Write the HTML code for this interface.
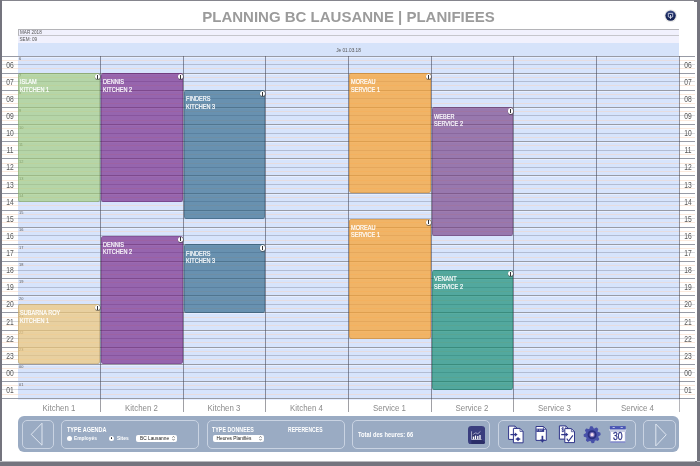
<!DOCTYPE html>
<html><head><meta charset="utf-8"><title>Planning BC Lausanne</title>
<style>
html,body{margin:0;padding:0;}
body{width:700px;height:466px;overflow:hidden;background:#fff;position:relative;font-family:"Liberation Sans",sans-serif;}
.a{position:absolute;}
.frame{position:absolute;background:#74747e;}
.title{position:absolute;left:0;width:697px;top:8px;text-align:center;font-weight:bold;font-size:15px;line-height:18px;color:#9b9b9b;white-space:nowrap;}
.hl{position:absolute;left:2px;width:693px;height:1px;}
.blk{position:absolute;border-radius:3px;box-sizing:border-box;}
.blk .t{position:absolute;left:2.3px;top:5.2px;color:#fff;font-size:7px;line-height:7.5px;white-space:nowrap;transform:scaleX(.795);transform-origin:0 0;-webkit-text-stroke:.2px #fff;}
.blk .i{position:absolute;right:0px;top:0.9px;width:5.3px;height:5.3px;border-radius:50%;background:#fff;box-shadow:.3px .4px 0 .5px rgba(60,60,60,.6);}
.blk .i:after{content:"";position:absolute;left:2.1px;top:.8px;width:1.1px;height:3.8px;background:#333;}
.hr{position:absolute;font-size:8.6px;line-height:9px;color:#585858;width:14px;text-align:center;transform:scaleX(.78);}
.sm{position:absolute;font-size:3.900px;line-height:4px;color:#5a5a5a;left:19px;}
.cl{position:absolute;font-size:8.4px;line-height:10px;color:#8a8a8a;text-align:center;top:403px;transform:scaleX(.94);}
.tb{position:absolute;left:18px;top:416px;width:661px;height:36px;background:#9aabc3;border-radius:6px;}
.pn{position:absolute;top:4px;height:29px;box-sizing:border-box;border:1px solid #c9d3e2;border-radius:5px;}
.lb{position:absolute;color:#fff;font-size:6.4px;line-height:8px;font-weight:bold;white-space:nowrap;transform-origin:0 0;}
.sl{position:absolute;height:7px;background:#fff;border-radius:2px;font-size:4.8px;line-height:7px;color:#222;white-space:nowrap;box-sizing:border-box;padding-left:4px;}
</style></head><body>
<div id="root" style="position:absolute;left:0;top:0;width:700px;height:466px;overflow:hidden;will-change:transform;">

<div class="frame" style="left:0;top:0;width:700px;height:1px;background:#85858d"></div>
<div class="frame" style="left:0;top:0;width:2px;height:466px;"></div>
<div class="frame" style="left:697px;top:0;width:3px;height:466px;"></div>
<div class="frame" style="left:694px;top:0;width:3px;height:2px;"></div>
<div class="frame" style="left:0;top:462px;width:700px;height:4px;"></div>
<div class="frame" style="left:0;top:461px;width:700px;height:1px;background:#b9b9be"></div>
<div class="frame" style="left:695px;top:461px;width:2px;height:1px;"></div>
<div class="title">PLANNING BC LAUSANNE | PLANIFIEES</div>
<svg class="a" style="left:663px;top:8px" width="16" height="16" viewBox="0 0 16 16"><defs><linearGradient id="g1" x1="0" y1="0" x2="0" y2="1"><stop offset="0" stop-color="#3a4b86"/><stop offset=".45" stop-color="#1a2a60"/><stop offset="1" stop-color="#142050"/></linearGradient></defs><circle cx="7.7" cy="7.8" r="6.3" fill="#dcdcd8" opacity=".7"/><circle cx="7.6" cy="7.6" r="5.2" fill="url(#g1)"/><path d="M5.300 5.400h4.400v3.400h-1.300M5.300 5.400v3.400h1.100" stroke="#dfe3f2" stroke-width=".8" fill="none"/><path d="M7.500 7v3.200M6.400 9.300l1.100 1.200 1.100-1.200" stroke="#fff" stroke-width=".8" fill="none"/></svg>
<div class="a" style="left:18px;top:29px;width:661px;height:7px;background:#f1f1fd;box-sizing:border-box;border-top:1px solid #b4b4b8;border-bottom:1px solid #c6c6cc;border-left:1px solid #b4b4b8"></div>
<div class="a" style="left:18px;top:36px;width:661px;height:7px;background:#f1f1fd"></div>
<div class="a" style="left:18px;top:43px;width:661px;height:13px;background:#d6e3fa"></div>
<div class="a" style="left:20px;top:29.8px;font-size:4.6px;line-height:5px;color:#555;white-space:nowrap">MAR 2018</div>
<div class="a" style="left:19.5px;top:36.6px;font-size:4.6px;line-height:5px;color:#555;white-space:nowrap">SEM: 09</div>
<div class="a" style="left:18px;width:661px;text-align:center;top:47.7px;font-size:4.7px;line-height:5px;color:#555;white-space:nowrap">Je 01.03.18</div>
<div class="a" style="left:18px;top:56.0px;width:661px;height:342.5px;background:#d7e4fc"></div>
<div class="hl" style="top:55.50px;background:#989ba5"></div>
<div class="a" style="left:18px;width:661px;height:1px;top:56.60px;background:#e6eeff"></div>
<div class="hl" style="top:59.78px;background:#fbe9dc"></div>
<div class="a" style="left:18px;width:661px;height:1px;top:59.78px;background:#e6dcdf"></div>
<div class="hl" style="top:64.06px;background:#d9d9dc"></div>
<div class="a" style="left:18px;width:661px;height:1px;top:64.06px;background:#b2bcd3"></div>
<div class="hl" style="top:68.34px;background:#fbe9dc"></div>
<div class="a" style="left:18px;width:661px;height:1px;top:68.34px;background:#e6dcdf"></div>
<div class="hl" style="top:72.62px;background:#989ba5"></div>
<div class="a" style="left:18px;width:661px;height:1px;top:73.72px;background:#e6eeff"></div>
<div class="hl" style="top:76.91px;background:#fbe9dc"></div>
<div class="a" style="left:18px;width:661px;height:1px;top:76.91px;background:#e6dcdf"></div>
<div class="hl" style="top:81.19px;background:#d9d9dc"></div>
<div class="a" style="left:18px;width:661px;height:1px;top:81.19px;background:#b2bcd3"></div>
<div class="hl" style="top:85.47px;background:#fbe9dc"></div>
<div class="a" style="left:18px;width:661px;height:1px;top:85.47px;background:#e6dcdf"></div>
<div class="hl" style="top:89.75px;background:#989ba5"></div>
<div class="a" style="left:18px;width:661px;height:1px;top:90.85px;background:#e6eeff"></div>
<div class="hl" style="top:94.03px;background:#fbe9dc"></div>
<div class="a" style="left:18px;width:661px;height:1px;top:94.03px;background:#e6dcdf"></div>
<div class="hl" style="top:98.31px;background:#d9d9dc"></div>
<div class="a" style="left:18px;width:661px;height:1px;top:98.31px;background:#b2bcd3"></div>
<div class="hl" style="top:102.59px;background:#fbe9dc"></div>
<div class="a" style="left:18px;width:661px;height:1px;top:102.59px;background:#e6dcdf"></div>
<div class="hl" style="top:106.88px;background:#989ba5"></div>
<div class="a" style="left:18px;width:661px;height:1px;top:107.97px;background:#e6eeff"></div>
<div class="hl" style="top:111.16px;background:#fbe9dc"></div>
<div class="a" style="left:18px;width:661px;height:1px;top:111.16px;background:#e6dcdf"></div>
<div class="hl" style="top:115.44px;background:#d9d9dc"></div>
<div class="a" style="left:18px;width:661px;height:1px;top:115.44px;background:#b2bcd3"></div>
<div class="hl" style="top:119.72px;background:#fbe9dc"></div>
<div class="a" style="left:18px;width:661px;height:1px;top:119.72px;background:#e6dcdf"></div>
<div class="hl" style="top:124.00px;background:#989ba5"></div>
<div class="a" style="left:18px;width:661px;height:1px;top:125.10px;background:#e6eeff"></div>
<div class="hl" style="top:128.28px;background:#fbe9dc"></div>
<div class="a" style="left:18px;width:661px;height:1px;top:128.28px;background:#e6dcdf"></div>
<div class="hl" style="top:132.56px;background:#d9d9dc"></div>
<div class="a" style="left:18px;width:661px;height:1px;top:132.56px;background:#b2bcd3"></div>
<div class="hl" style="top:136.84px;background:#fbe9dc"></div>
<div class="a" style="left:18px;width:661px;height:1px;top:136.84px;background:#e6dcdf"></div>
<div class="hl" style="top:141.12px;background:#989ba5"></div>
<div class="a" style="left:18px;width:661px;height:1px;top:142.22px;background:#e6eeff"></div>
<div class="hl" style="top:145.41px;background:#fbe9dc"></div>
<div class="a" style="left:18px;width:661px;height:1px;top:145.41px;background:#e6dcdf"></div>
<div class="hl" style="top:149.69px;background:#d9d9dc"></div>
<div class="a" style="left:18px;width:661px;height:1px;top:149.69px;background:#b2bcd3"></div>
<div class="hl" style="top:153.97px;background:#fbe9dc"></div>
<div class="a" style="left:18px;width:661px;height:1px;top:153.97px;background:#e6dcdf"></div>
<div class="hl" style="top:158.25px;background:#989ba5"></div>
<div class="a" style="left:18px;width:661px;height:1px;top:159.35px;background:#e6eeff"></div>
<div class="hl" style="top:162.53px;background:#fbe9dc"></div>
<div class="a" style="left:18px;width:661px;height:1px;top:162.53px;background:#e6dcdf"></div>
<div class="hl" style="top:166.81px;background:#d9d9dc"></div>
<div class="a" style="left:18px;width:661px;height:1px;top:166.81px;background:#b2bcd3"></div>
<div class="hl" style="top:171.09px;background:#fbe9dc"></div>
<div class="a" style="left:18px;width:661px;height:1px;top:171.09px;background:#e6dcdf"></div>
<div class="hl" style="top:175.38px;background:#989ba5"></div>
<div class="a" style="left:18px;width:661px;height:1px;top:176.47px;background:#e6eeff"></div>
<div class="hl" style="top:179.66px;background:#fbe9dc"></div>
<div class="a" style="left:18px;width:661px;height:1px;top:179.66px;background:#e6dcdf"></div>
<div class="hl" style="top:183.94px;background:#d9d9dc"></div>
<div class="a" style="left:18px;width:661px;height:1px;top:183.94px;background:#b2bcd3"></div>
<div class="hl" style="top:188.22px;background:#fbe9dc"></div>
<div class="a" style="left:18px;width:661px;height:1px;top:188.22px;background:#e6dcdf"></div>
<div class="hl" style="top:192.50px;background:#989ba5"></div>
<div class="a" style="left:18px;width:661px;height:1px;top:193.60px;background:#e6eeff"></div>
<div class="hl" style="top:196.78px;background:#fbe9dc"></div>
<div class="a" style="left:18px;width:661px;height:1px;top:196.78px;background:#e6dcdf"></div>
<div class="hl" style="top:201.06px;background:#d9d9dc"></div>
<div class="a" style="left:18px;width:661px;height:1px;top:201.06px;background:#b2bcd3"></div>
<div class="hl" style="top:205.34px;background:#fbe9dc"></div>
<div class="a" style="left:18px;width:661px;height:1px;top:205.34px;background:#e6dcdf"></div>
<div class="hl" style="top:209.62px;background:#989ba5"></div>
<div class="a" style="left:18px;width:661px;height:1px;top:210.72px;background:#e6eeff"></div>
<div class="hl" style="top:213.91px;background:#fbe9dc"></div>
<div class="a" style="left:18px;width:661px;height:1px;top:213.91px;background:#e6dcdf"></div>
<div class="hl" style="top:218.19px;background:#d9d9dc"></div>
<div class="a" style="left:18px;width:661px;height:1px;top:218.19px;background:#b2bcd3"></div>
<div class="hl" style="top:222.47px;background:#fbe9dc"></div>
<div class="a" style="left:18px;width:661px;height:1px;top:222.47px;background:#e6dcdf"></div>
<div class="hl" style="top:226.75px;background:#989ba5"></div>
<div class="a" style="left:18px;width:661px;height:1px;top:227.85px;background:#e6eeff"></div>
<div class="hl" style="top:231.03px;background:#fbe9dc"></div>
<div class="a" style="left:18px;width:661px;height:1px;top:231.03px;background:#e6dcdf"></div>
<div class="hl" style="top:235.31px;background:#d9d9dc"></div>
<div class="a" style="left:18px;width:661px;height:1px;top:235.31px;background:#b2bcd3"></div>
<div class="hl" style="top:239.59px;background:#fbe9dc"></div>
<div class="a" style="left:18px;width:661px;height:1px;top:239.59px;background:#e6dcdf"></div>
<div class="hl" style="top:243.88px;background:#989ba5"></div>
<div class="a" style="left:18px;width:661px;height:1px;top:244.97px;background:#e6eeff"></div>
<div class="hl" style="top:248.16px;background:#fbe9dc"></div>
<div class="a" style="left:18px;width:661px;height:1px;top:248.16px;background:#e6dcdf"></div>
<div class="hl" style="top:252.44px;background:#d9d9dc"></div>
<div class="a" style="left:18px;width:661px;height:1px;top:252.44px;background:#b2bcd3"></div>
<div class="hl" style="top:256.72px;background:#fbe9dc"></div>
<div class="a" style="left:18px;width:661px;height:1px;top:256.72px;background:#e6dcdf"></div>
<div class="hl" style="top:261.00px;background:#989ba5"></div>
<div class="a" style="left:18px;width:661px;height:1px;top:262.10px;background:#e6eeff"></div>
<div class="hl" style="top:265.28px;background:#fbe9dc"></div>
<div class="a" style="left:18px;width:661px;height:1px;top:265.28px;background:#e6dcdf"></div>
<div class="hl" style="top:269.56px;background:#d9d9dc"></div>
<div class="a" style="left:18px;width:661px;height:1px;top:269.56px;background:#b2bcd3"></div>
<div class="hl" style="top:273.84px;background:#fbe9dc"></div>
<div class="a" style="left:18px;width:661px;height:1px;top:273.84px;background:#e6dcdf"></div>
<div class="hl" style="top:278.12px;background:#989ba5"></div>
<div class="a" style="left:18px;width:661px;height:1px;top:279.23px;background:#e6eeff"></div>
<div class="hl" style="top:282.41px;background:#fbe9dc"></div>
<div class="a" style="left:18px;width:661px;height:1px;top:282.41px;background:#e6dcdf"></div>
<div class="hl" style="top:286.69px;background:#d9d9dc"></div>
<div class="a" style="left:18px;width:661px;height:1px;top:286.69px;background:#b2bcd3"></div>
<div class="hl" style="top:290.97px;background:#fbe9dc"></div>
<div class="a" style="left:18px;width:661px;height:1px;top:290.97px;background:#e6dcdf"></div>
<div class="hl" style="top:295.25px;background:#989ba5"></div>
<div class="a" style="left:18px;width:661px;height:1px;top:296.35px;background:#e6eeff"></div>
<div class="hl" style="top:299.53px;background:#fbe9dc"></div>
<div class="a" style="left:18px;width:661px;height:1px;top:299.53px;background:#e6dcdf"></div>
<div class="hl" style="top:303.81px;background:#d9d9dc"></div>
<div class="a" style="left:18px;width:661px;height:1px;top:303.81px;background:#b2bcd3"></div>
<div class="hl" style="top:308.09px;background:#fbe9dc"></div>
<div class="a" style="left:18px;width:661px;height:1px;top:308.09px;background:#e6dcdf"></div>
<div class="hl" style="top:312.38px;background:#989ba5"></div>
<div class="a" style="left:18px;width:661px;height:1px;top:313.48px;background:#e6eeff"></div>
<div class="hl" style="top:316.66px;background:#fbe9dc"></div>
<div class="a" style="left:18px;width:661px;height:1px;top:316.66px;background:#e6dcdf"></div>
<div class="hl" style="top:320.94px;background:#d9d9dc"></div>
<div class="a" style="left:18px;width:661px;height:1px;top:320.94px;background:#b2bcd3"></div>
<div class="hl" style="top:325.22px;background:#fbe9dc"></div>
<div class="a" style="left:18px;width:661px;height:1px;top:325.22px;background:#e6dcdf"></div>
<div class="hl" style="top:329.50px;background:#989ba5"></div>
<div class="a" style="left:18px;width:661px;height:1px;top:330.60px;background:#e6eeff"></div>
<div class="hl" style="top:333.78px;background:#fbe9dc"></div>
<div class="a" style="left:18px;width:661px;height:1px;top:333.78px;background:#e6dcdf"></div>
<div class="hl" style="top:338.06px;background:#d9d9dc"></div>
<div class="a" style="left:18px;width:661px;height:1px;top:338.06px;background:#b2bcd3"></div>
<div class="hl" style="top:342.34px;background:#fbe9dc"></div>
<div class="a" style="left:18px;width:661px;height:1px;top:342.34px;background:#e6dcdf"></div>
<div class="hl" style="top:346.62px;background:#989ba5"></div>
<div class="a" style="left:18px;width:661px;height:1px;top:347.73px;background:#e6eeff"></div>
<div class="hl" style="top:350.91px;background:#fbe9dc"></div>
<div class="a" style="left:18px;width:661px;height:1px;top:350.91px;background:#e6dcdf"></div>
<div class="hl" style="top:355.19px;background:#d9d9dc"></div>
<div class="a" style="left:18px;width:661px;height:1px;top:355.19px;background:#b2bcd3"></div>
<div class="hl" style="top:359.47px;background:#fbe9dc"></div>
<div class="a" style="left:18px;width:661px;height:1px;top:359.47px;background:#e6dcdf"></div>
<div class="hl" style="top:363.75px;background:#989ba5"></div>
<div class="a" style="left:18px;width:661px;height:1px;top:364.85px;background:#e6eeff"></div>
<div class="hl" style="top:368.03px;background:#fbe9dc"></div>
<div class="a" style="left:18px;width:661px;height:1px;top:368.03px;background:#e6dcdf"></div>
<div class="hl" style="top:372.31px;background:#d9d9dc"></div>
<div class="a" style="left:18px;width:661px;height:1px;top:372.31px;background:#b2bcd3"></div>
<div class="hl" style="top:376.59px;background:#fbe9dc"></div>
<div class="a" style="left:18px;width:661px;height:1px;top:376.59px;background:#e6dcdf"></div>
<div class="hl" style="top:380.88px;background:#989ba5"></div>
<div class="a" style="left:18px;width:661px;height:1px;top:381.98px;background:#e6eeff"></div>
<div class="hl" style="top:385.16px;background:#fbe9dc"></div>
<div class="a" style="left:18px;width:661px;height:1px;top:385.16px;background:#e6dcdf"></div>
<div class="hl" style="top:389.44px;background:#d9d9dc"></div>
<div class="a" style="left:18px;width:661px;height:1px;top:389.44px;background:#b2bcd3"></div>
<div class="hl" style="top:393.72px;background:#fbe9dc"></div>
<div class="a" style="left:18px;width:661px;height:1px;top:393.72px;background:#e6dcdf"></div>
<div class="hl" style="top:398.00px;background:#989ba5"></div>
<div class="a" style="left:18px;width:661px;height:1px;top:399.10px;background:#e6eeff"></div>
<div class="hr" style="left:3px;top:60.66px">06</div>
<div class="hr" style="left:680.5px;top:60.66px">06</div>
<div class="sm" style="top:57.20px">6</div>
<div class="hr" style="left:3px;top:77.79px">07</div>
<div class="hr" style="left:680.5px;top:77.79px">07</div>
<div class="sm" style="top:74.33px">7</div>
<div class="hr" style="left:3px;top:94.91px">08</div>
<div class="hr" style="left:680.5px;top:94.91px">08</div>
<div class="sm" style="top:91.45px">8</div>
<div class="hr" style="left:3px;top:112.04px">09</div>
<div class="hr" style="left:680.5px;top:112.04px">09</div>
<div class="sm" style="top:108.58px">9</div>
<div class="hr" style="left:3px;top:129.16px">10</div>
<div class="hr" style="left:680.5px;top:129.16px">10</div>
<div class="sm" style="top:125.70px">10</div>
<div class="hr" style="left:3px;top:146.29px">11</div>
<div class="hr" style="left:680.5px;top:146.29px">11</div>
<div class="sm" style="top:142.82px">11</div>
<div class="hr" style="left:3px;top:163.41px">12</div>
<div class="hr" style="left:680.5px;top:163.41px">12</div>
<div class="sm" style="top:159.95px">12</div>
<div class="hr" style="left:3px;top:180.54px">13</div>
<div class="hr" style="left:680.5px;top:180.54px">13</div>
<div class="sm" style="top:177.07px">13</div>
<div class="hr" style="left:3px;top:197.66px">14</div>
<div class="hr" style="left:680.5px;top:197.66px">14</div>
<div class="sm" style="top:194.20px">14</div>
<div class="hr" style="left:3px;top:214.79px">15</div>
<div class="hr" style="left:680.5px;top:214.79px">15</div>
<div class="sm" style="top:211.32px">15</div>
<div class="hr" style="left:3px;top:231.91px">16</div>
<div class="hr" style="left:680.5px;top:231.91px">16</div>
<div class="sm" style="top:228.45px">16</div>
<div class="hr" style="left:3px;top:249.04px">17</div>
<div class="hr" style="left:680.5px;top:249.04px">17</div>
<div class="sm" style="top:245.57px">17</div>
<div class="hr" style="left:3px;top:266.16px">18</div>
<div class="hr" style="left:680.5px;top:266.16px">18</div>
<div class="sm" style="top:262.70px">18</div>
<div class="hr" style="left:3px;top:283.29px">19</div>
<div class="hr" style="left:680.5px;top:283.29px">19</div>
<div class="sm" style="top:279.82px">19</div>
<div class="hr" style="left:3px;top:300.41px">20</div>
<div class="hr" style="left:680.5px;top:300.41px">20</div>
<div class="sm" style="top:296.95px">20</div>
<div class="hr" style="left:3px;top:317.54px">21</div>
<div class="hr" style="left:680.5px;top:317.54px">21</div>
<div class="sm" style="top:314.07px">21</div>
<div class="hr" style="left:3px;top:334.66px">22</div>
<div class="hr" style="left:680.5px;top:334.66px">22</div>
<div class="sm" style="top:331.20px">22</div>
<div class="hr" style="left:3px;top:351.79px">23</div>
<div class="hr" style="left:680.5px;top:351.79px">23</div>
<div class="sm" style="top:348.32px">23</div>
<div class="hr" style="left:3px;top:368.91px">00</div>
<div class="hr" style="left:680.5px;top:368.91px">00</div>
<div class="sm" style="top:365.45px">00</div>
<div class="hr" style="left:3px;top:386.04px">01</div>
<div class="hr" style="left:680.5px;top:386.04px">01</div>
<div class="sm" style="top:382.57px">01</div>
<div class="blk" style="left:18px;top:73.12px;width:82.4px;height:128.44px;background:rgba(160,204,117,0.62);box-shadow:inset 0 0 0 .6px rgba(80,102,58,.35)"><div class="t" style="left:1.9px">ISLAM<br>KITCHEN 1</div><div class="i"></div></div>
<div class="blk" style="left:100.6px;top:73.12px;width:82.80000000000001px;height:128.44px;background:rgba(109,23,126,0.62);box-shadow:inset 0 0 0 .6px rgba(54,11,63,.35)"><div class="t" style="left:2.3px">DENNIS<br>KITCHEN 2</div><div class="i"></div></div>
<div class="blk" style="left:183.6px;top:90.25px;width:81.79999999999998px;height:128.44px;background:rgba(36,93,129,0.62);box-shadow:inset 0 0 0 .6px rgba(18,46,64,.35)"><div class="t" style="left:2.3px">FINDERS<br>KITCHEN 3</div><div class="i"></div></div>
<div class="blk" style="left:100.6px;top:235.81px;width:82.80000000000001px;height:128.44px;background:rgba(109,23,126,0.62);box-shadow:inset 0 0 0 .6px rgba(54,11,63,.35)"><div class="t" style="left:2.3px">DENNIS<br>KITCHEN 2</div><div class="i"></div></div>
<div class="blk" style="left:183.6px;top:244.38px;width:81.79999999999998px;height:68.50px;background:rgba(36,93,129,0.62);box-shadow:inset 0 0 0 .6px rgba(18,46,64,.35)"><div class="t" style="left:2.3px">FINDERS<br>KITCHEN 3</div><div class="i"></div></div>
<div class="blk" style="left:18px;top:304.31px;width:82.4px;height:59.94px;background:rgba(240,199,117,0.68);box-shadow:inset 0 0 0 .6px rgba(120,99,58,.35)"><div class="t" style="left:1.9px">SUBARNA ROY<br>KITCHEN 1</div><div class="i"></div></div>
<div class="blk" style="left:348.6px;top:73.12px;width:82.79999999999995px;height:119.88px;background:rgba(250,161,46,0.72);box-shadow:inset 0 0 0 .6px rgba(125,80,23,.35)"><div class="t" style="left:2.3px">MOREAU<br>SERVICE 1</div><div class="i"></div></div>
<div class="blk" style="left:348.6px;top:218.69px;width:82.79999999999995px;height:119.88px;background:rgba(250,161,46,0.72);box-shadow:inset 0 0 0 .6px rgba(125,80,23,.35)"><div class="t" style="left:2.3px">MOREAU<br>SERVICE 1</div><div class="i"></div></div>
<div class="blk" style="left:431.6px;top:107.38px;width:81.79999999999995px;height:128.44px;background:rgba(113,54,126,0.62);box-shadow:inset 0 0 0 .6px rgba(56,27,63,.35)"><div class="t" style="left:2.3px">WEBER<br>SERVICE 2</div><div class="i"></div></div>
<div class="blk" style="left:431.6px;top:270.06px;width:81.79999999999995px;height:119.88px;background:rgba(0,131,100,0.62);box-shadow:inset 0 0 0 .6px rgba(0,65,50,.35)"><div class="t" style="left:2.3px">VENANT<br>SERVICE 2</div><div class="i"></div></div>
<div class="a" style="left:100px;top:56.0px;width:1px;height:342.5px;background:rgba(70,72,90,.58)"></div>
<div class="a" style="left:100px;top:398.5px;width:1px;height:13.5px;background:#a0a0a5"></div>
<div class="a" style="left:183px;top:56.0px;width:1px;height:342.5px;background:rgba(70,72,90,.58)"></div>
<div class="a" style="left:183px;top:398.5px;width:1px;height:13.5px;background:#a0a0a5"></div>
<div class="a" style="left:265px;top:56.0px;width:1px;height:342.5px;background:rgba(70,72,90,.58)"></div>
<div class="a" style="left:265px;top:398.5px;width:1px;height:13.5px;background:#a0a0a5"></div>
<div class="a" style="left:348px;top:56.0px;width:1px;height:342.5px;background:rgba(70,72,90,.58)"></div>
<div class="a" style="left:348px;top:398.5px;width:1px;height:13.5px;background:#a0a0a5"></div>
<div class="a" style="left:431px;top:56.0px;width:1px;height:342.5px;background:rgba(70,72,90,.58)"></div>
<div class="a" style="left:431px;top:398.5px;width:1px;height:13.5px;background:#a0a0a5"></div>
<div class="a" style="left:513px;top:56.0px;width:1px;height:342.5px;background:rgba(70,72,90,.58)"></div>
<div class="a" style="left:513px;top:398.5px;width:1px;height:13.5px;background:#a0a0a5"></div>
<div class="a" style="left:596px;top:56.0px;width:1px;height:342.5px;background:rgba(70,72,90,.58)"></div>
<div class="a" style="left:596px;top:398.5px;width:1px;height:13.5px;background:#a0a0a5"></div>
<div class="a" style="left:679px;top:56.0px;width:1px;height:342.5px;background:rgba(70,72,90,.58)"></div>
<div class="a" style="left:679px;top:398.5px;width:1px;height:13.5px;background:#b5b5ba"></div>
<div class="cl" style="left:18px;width:82px">Kitchen 1</div>
<div class="cl" style="left:100px;width:83px">Kitchen 2</div>
<div class="cl" style="left:183px;width:82px">Kitchen 3</div>
<div class="cl" style="left:265px;width:83px">Kitchen 4</div>
<div class="cl" style="left:348px;width:83px">Service 1</div>
<div class="cl" style="left:431px;width:82px">Service 2</div>
<div class="cl" style="left:513px;width:83px">Service 3</div>
<div class="cl" style="left:596px;width:83px">Service 4</div>
<div class="tb">
<div class="pn" style="left:4px;width:32px"></div>
<svg class="a" style="left:4px;top:4px" width="32" height="28" viewBox="0 0 32 28"><path d="M20 3.2 L9.2 14.4 L20 25.2 Z" fill="none" stroke="#dfe6f0" stroke-width="1"/></svg>
<div class="pn" style="left:42.600px;width:138.600px"></div>
<div class="lb" style="left:48.5px;top:10.2px;transform:scaleX(.86)">TYPE AGENDA</div>
<div class="a" style="left:48.5px;top:19.5px;width:5px;height:5px;border-radius:50%;background:#fff"></div>
<div class="lb" style="left:56.3px;top:18.3px;font-size:5.4px;transform:scaleX(.9)">Employés</div>
<div class="a" style="left:91px;top:19.5px;width:5px;height:5px;border-radius:50%;background:#fff"></div>
<div class="a" style="left:92.7px;top:21.2px;width:1.6px;height:1.6px;border-radius:50%;background:#222"></div>
<div class="lb" style="left:98.8px;top:18.3px;font-size:5.4px;transform:scaleX(.9)">Sites</div>
<div class="sl" style="left:118px;top:19px;width:41px">BC Lausanne<svg style="position:absolute;right:1.6px;top:1.2px" width="3" height="4.6" viewBox="0 0 3 4.6"><path d="M.3 1.7L1.5.3 2.7 1.7M.3 2.9L1.5 4.3 2.7 2.9" stroke="#333" stroke-width=".55" fill="none"/></svg></div>
<div class="pn" style="left:188.600px;width:138.600px"></div>
<div class="lb" style="left:194px;top:10.2px;transform:scaleX(.835)">TYPE DONNEES</div>
<div class="lb" style="left:269.5px;top:10.2px;transform:scaleX(.79)">REFERENCES</div>
<div class="sl" style="left:194.5px;top:19px;width:51px">Heures Planifiés<svg style="position:absolute;right:1.6px;top:1.2px" width="3" height="4.6" viewBox="0 0 3 4.6"><path d="M.3 1.7L1.5.3 2.7 1.7M.3 2.9L1.5 4.3 2.7 2.9" stroke="#333" stroke-width=".55" fill="none"/></svg></div>
<div class="pn" style="left:333.800px;width:138.600px"></div>
<div class="lb" style="left:339.5px;top:15.2px;font-size:6.4px;transform:scaleX(.9)">Total des heures: 66</div>
<svg class="a" style="left:450px;top:9.700px" width="17.200" height="18.500" viewBox="0 0 17.200 18.500"><rect width="17.200" height="18.500" rx="3.400" fill="#3a3e7e"/><path d="M3.400 5.400L13.800 13.500L17.200 16.500v-1a3.400 3.400 0 0 1-3.400 3H3.400L3.400 13.500z" fill="#2b2e68"/><path d="M3.600 5.300v8.200h10" stroke="#dfe1f0" stroke-width=".7" fill="none"/><path d="M5.500 13.200V10.600M7.500 13.200V9.600M9.800 13.200V10M12 13.200V9" stroke="#fff" stroke-width="1.300"/><path d="M4.800 8.600l3-1.800 2 1 2.700-2.500" stroke="#dfe1f0" stroke-width=".6" fill="none"/></svg>
<div class="pn" style="left:479.600px;width:138.400px"></div>
<svg class="a" style="left:-18px;top:-416px" width="700" height="466" viewBox="0 0 700 466">
<g fill="#fff" stroke="#30368a" stroke-width="1" stroke-linejoin="round">
<path d="M508.6 426.1h6.4l2.4 2.4v10.9h-8.8z"/>
<path d="M513.4 428.4h6.6l3.1 3.1v11.3h-9.7z"/>
<path d="M559.4 425.9h6.4l2.4 2.4v10.8h-8.8z"/>
<path d="M564.8 428.6h6.6l3.1 3.1v10.9h-9.7z"/>
<path d="M536 426.5h7.4l2.9 2.9v11h-10.3z"/>
</g>
<g fill="none" stroke="#30368a" stroke-width=".7">
<path d="M515 426.1v2.4h2.4M520 428.4v3.1h3.1M565.8 425.9v2.4h2.4M571.4 428.6v3.1h3.1M543.4 426.5v2.9h2.9"/>
</g>
<path d="M510.4 434.6h5" stroke="#30368a" stroke-width="1.3"/>
<path d="M514.8 432.4l2.8 2.2-2.8 2.2z" fill="#30368a"/>
<path d="M518 437l2 2.1-2 2.1-2-2.1z" fill="#30368a"/>
<path d="M515.6 439.1h4.8" stroke="#30368a" stroke-width=".9"/>
<rect x="536.4" y="428.7" width="7.8" height="3.2" fill="#30368a"/>
<path d="M537.4 430.9v-1.4h.8M539.4 429.5v1.4h.9v-1.4zM541.6 430.9v-1.4h1" stroke="#cfd3ee" stroke-width=".45" fill="none"/>
<path d="M542.4 435.8v4.6" stroke="#30368a" stroke-width="1.7"/>
<path d="M539.9 439.6h5l-2.5 3.1z" fill="#30368a"/>
<path d="M561.2 434.6h5.2" stroke="#30368a" stroke-width="1.3"/>
<path d="M565.6 432.4l2.8 2.2-2.8 2.2z" fill="#30368a"/>
<path d="M566.7 438.6l1.9 2.5 4.3-5.8" stroke="#30368a" stroke-width="1.1" fill="none"/>
<path d="M563.9 428.3c-.5-.6-2.2-.6-2.2.5s2.4.6 2.4 1.8-1.900 1.200-2.500.4M562.800 427.200v5" stroke="#30368a" stroke-width=".8" fill="none"/>
<path d="M590.56 426.95 L592.10 426.80 L593.25 428.91 L594.36 429.25 L596.49 428.13 L597.69 429.11 L597.01 431.42 L597.55 432.44 L599.85 433.16 L600.00 434.70 L597.89 435.85 L597.55 436.96 L598.67 439.09 L597.69 440.29 L595.38 439.61 L594.36 440.15 L593.64 442.45 L592.10 442.60 L590.95 440.49 L589.84 440.15 L587.71 441.27 L586.51 440.29 L587.19 437.98 L586.65 436.96 L584.35 436.24 L584.20 434.70 L586.31 433.55 L586.65 432.44 L585.53 430.31 L586.51 429.11 L588.82 429.79 L589.84 429.25Z" fill="#4851a9" stroke="#4851a9" stroke-width="1.2" stroke-linejoin="round"/>
<circle cx="592.1" cy="434.7" r="4.500" fill="#2a2f80"/>
<circle cx="592.1" cy="434.7" r="2.600" fill="#7d74b8"/>
<circle cx="592.1" cy="434.7" r="1.600" fill="#f3dcec"/>
<path d="M609.300 429.300h17l-1 2.600v10h-15v-10z" fill="#fff"/>
<path d="M609.300 429.300h17l-1 2.600h-15z" fill="#c9cee3"/>
<rect x="609.900" y="426.100" width="15.800" height="3.300" fill="#4955b4"/>
<rect x="612.600" y="427" width="2.200" height=".9" fill="#c7ccee"/>
<rect x="620.600" y="427" width="2.200" height=".9" fill="#c7ccee"/>
<path d="M610.300 441.200h15v1.800h-15z" fill="#8790cc"/>
<path d="M610.300 431.900v10M625.300 431.900v10" stroke="#8e97d0" stroke-width=".6"/>
<text x="617.800" y="439.700" text-anchor="middle" font-size="10.400" fill="#2d3488" stroke="#2d3488" stroke-width=".3" font-family="Liberation Sans" textLength="9.600" lengthAdjust="spacingAndGlyphs">30</text>
</svg>
<div class="pn" style="left:625px;width:32.500px"></div>
<svg class="a" style="left:625px;top:4px" width="32" height="29" viewBox="0 0 32 29"><path d="M12.800 4 L23.200 14.800 L12.800 25.900 Z" fill="none" stroke="#dfe6f0" stroke-width="1"/></svg>
</div>
</div>
</body></html>
